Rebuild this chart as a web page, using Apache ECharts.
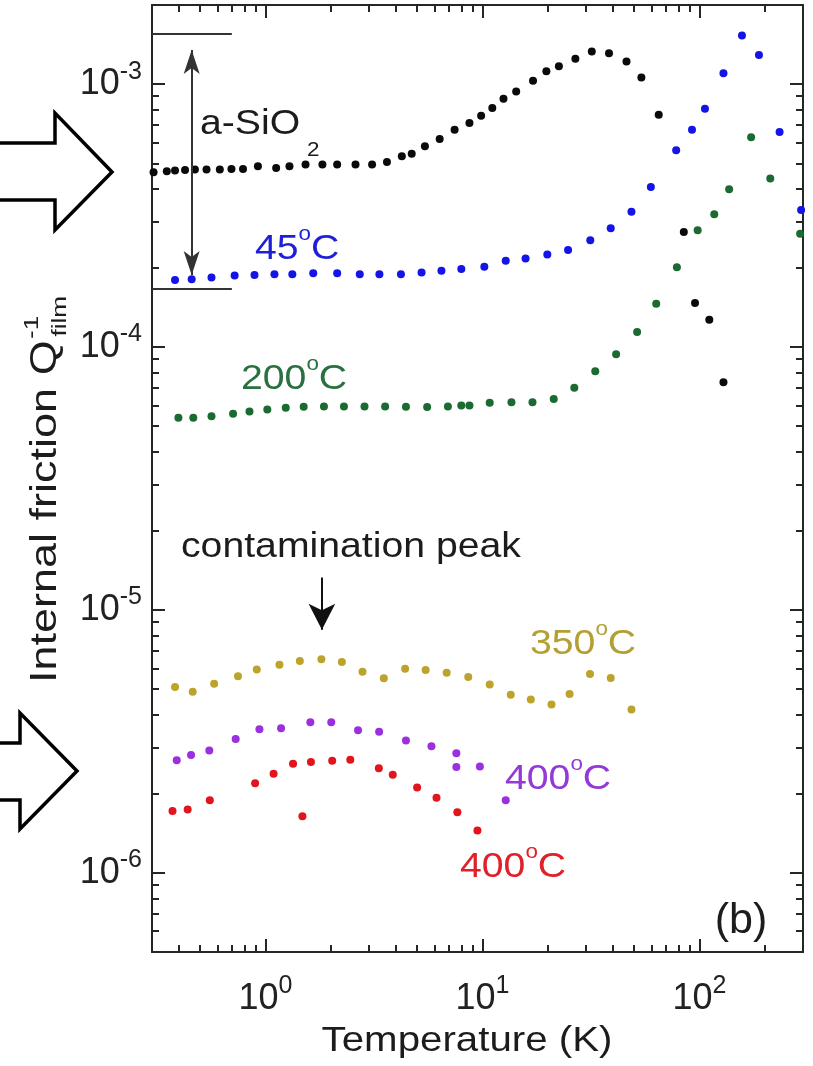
<!DOCTYPE html>
<html>
<head>
<meta charset="utf-8">
<script src="https://cdn.jsdelivr.net/npm/echarts@6/dist/echarts.min.js"></script>
<style>
  html, body { margin: 0; padding: 0; background: #fff; }
  #chart { width: 813px; height: 1066px; }
</style>
</head>
<body>
<div id="chart"></div>
<script>
// internal friction of the films, temperature in K, Q^-1
const sio2T = [0.305, 0.351, 0.383, 0.426, 0.473, 0.535, 0.616, 0.697, 0.788, 0.923, 1.12, 1.29, 1.53, 1.83, 2.14, 2.60, 3.10, 3.63, 4.25, 4.72, 5.43, 6.35, 7.44, 8.71, 9.86, 11.1, 12.5, 14.3, 17.1, 19.7, 22.5, 26.8, 31.9, 38.3, 46.1, 54.0, 64.9, 84.7, 95.4, 111, 129]
const sio2Q = [4.62e-4, 4.66e-4, 4.69e-4, 4.71e-4, 4.73e-4, 4.73e-4, 4.73e-4, 4.76e-4, 4.76e-4, 4.87e-4, 4.80e-4, 4.87e-4, 4.95e-4, 4.95e-4, 4.95e-4, 4.95e-4, 4.95e-4, 5.06e-4, 5.32e-4, 5.44e-4, 5.80e-4, 6.19e-4, 6.71e-4, 7.12e-4, 7.59e-4, 8.11e-4, 8.80e-4, 9.38e-4, 1.03e-3, 1.12e-3, 1.17e-3, 1.25e-3, 1.33e-3, 1.31e-3, 1.22e-3, 1.06e-3, 7.65e-4, 2.74e-4, 1.47e-4, 1.27e-4, 7.35e-5]

const c45T = [0.383, 0.457, 0.564, 0.721, 0.890, 1.10, 1.33, 1.66, 2.14, 2.72, 3.35, 4.21, 5.24, 6.47, 7.99, 10.2, 12.8, 15.8, 19.9, 24.8, 31.4, 39.0, 48.6, 59.7, 78.1, 92.4, 106, 129, 157, 188, 234, 294]
const c45Q = [1.80e-4, 1.81e-4, 1.84e-4, 1.87e-4, 1.88e-4, 1.89e-4, 1.89e-4, 1.91e-4, 1.91e-4, 1.89e-4, 1.89e-4, 1.89e-4, 1.92e-4, 1.95e-4, 1.98e-4, 2.02e-4, 2.13e-4, 2.17e-4, 2.25e-4, 2.34e-4, 2.55e-4, 2.83e-4, 3.27e-4, 4.06e-4, 5.60e-4, 6.71e-4, 8.06e-4, 1.10e-3, 1.53e-3, 1.29e-3, 6.58e-4, 3.32e-4]

const c200T = [0.397, 0.465, 0.564, 0.709, 0.844, 1.02, 1.24, 1.50, 1.86, 2.30, 2.86, 3.56, 4.44, 5.56, 6.93, 7.99, 8.71, 10.8, 13.6, 17.0, 21.3, 26.5, 33.1, 41.3, 51.6, 63.2, 78.7, 98.1, 117, 137, 173, 212, 291]
const c200Q = [5.38e-5, 5.38e-5, 5.46e-5, 5.58e-5, 5.69e-5, 5.79e-5, 5.87e-5, 5.93e-5, 5.94e-5, 5.94e-5, 5.94e-5, 5.94e-5, 5.93e-5, 5.91e-5, 5.94e-5, 5.99e-5, 5.99e-5, 6.14e-5, 6.17e-5, 6.17e-5, 6.35e-5, 7.00e-5, 8.09e-5, 9.39e-5, 1.14e-4, 1.46e-4, 2.01e-4, 2.78e-4, 3.20e-4, 3.98e-4, 6.28e-4, 4.38e-4, 2.70e-4]

const c350T = [0.383, 0.462, 0.580, 0.747, 0.912, 1.16, 1.44, 1.81, 2.25, 2.80, 3.51, 4.40, 5.47, 6.84, 8.60, 10.8, 13.5, 16.7, 20.8, 25.2, 31.3, 39.0, 48.6]
const c350Q = [5.09e-6, 4.88e-6, 5.24e-6, 5.59e-6, 5.93e-6, 6.19e-6, 6.39e-6, 6.49e-6, 6.34e-6, 5.82e-6, 5.50e-6, 5.98e-6, 5.91e-6, 5.77e-6, 5.56e-6, 5.20e-6, 4.76e-6, 4.56e-6, 4.37e-6, 4.79e-6, 5.71e-6, 5.51e-6, 4.18e-6]

const c400aT = [0.390, 0.454, 0.551, 0.729, 0.938, 1.18, 1.61, 2.01, 2.67, 3.34, 4.44, 5.82, 7.58, 7.58, 9.73, 12.8]
const c400aQ = [2.68e-6, 2.81e-6, 2.92e-6, 3.23e-6, 3.52e-6, 3.55e-6, 3.74e-6, 3.74e-6, 3.49e-6, 3.44e-6, 3.19e-6, 3.03e-6, 2.85e-6, 2.53e-6, 2.54e-6, 1.89e-6]

const c400bT = [0.373, 0.438, 0.554, 0.896, 1.09, 1.34, 1.48, 1.62, 2.03, 2.46, 3.33, 3.86, 5.00, 6.14, 7.66, 9.48]
const c400bQ = [1.72e-6, 1.74e-6, 1.89e-6, 2.19e-6, 2.38e-6, 2.60e-6, 1.64e-6, 2.64e-6, 2.67e-6, 2.69e-6, 2.50e-6, 2.36e-6, 2.11e-6, 1.93e-6, 1.70e-6, 1.45e-6]

// axis ranges and ticks
const xRange = [0.3, 300]
const yRange = [5e-7, 2e-3]
const xMajor = [1, 10, 100]
const xMinor = [0.4, 0.5, 0.6, 0.7, 0.8, 0.9, 2, 3, 4, 5, 6, 7, 8, 9, 20, 30, 40, 50, 60, 70, 80, 90, 200]
const yMajor = [1e-6, 1e-5, 1e-4, 1e-3]
const yMinor = [6e-7, 7e-7, 8e-7, 9e-7, 2e-6, 3e-6, 4e-6, 5e-6, 6e-6, 7e-6, 8e-6, 9e-6, 2e-5, 3e-5, 4e-5, 5e-5, 6e-5, 7e-5, 8e-5, 9e-5, 2e-4, 3e-4, 4e-4, 5e-4, 6e-4, 7e-4, 8e-4, 9e-4]

const FONT = '"Liberation Sans", Arial, Helvetica, sans-serif'
const AX = '#262626'
const SX = 1.12

const lg = v => Math.log10(v)
const pairs = (xs, ys) => xs.map((x, i) => [x, ys[i]])

const labelRich = {
  m: {fontSize: 36, lineHeight: 50, color: '#222', fontFamily: FONT},
  s: {fontSize: 25, lineHeight: 22, verticalAlign: 'top', color: '#222', fontFamily: FONT}
}
const powLabel = v => '{m|10}{s|' + Math.round(v) + '}'

// tick axes live in log10 space so the ticks can be placed freely
const tickAxis = (pos, range, ticks, len, line, label) => ({
  type: 'value',
  position: pos,
  min: lg(range[0]),
  max: lg(range[1]),
  splitLine: {show: false},
  axisLine: {show: line, onZero: false, lineStyle: {color: AX, width: 2}},
  axisTick: {show: true, inside: true, length: len, customValues: ticks.map(lg), lineStyle: {color: AX, width: 2}},
  axisLabel: label ? {
    show: true, customValues: ticks.map(lg), formatter: powLabel, rich: labelRich,
    margin: pos === 'bottom' ? 22 : 10
  } : {show: false}
})

const dots = (name, xs, ys, color) => ({
  name: name,
  type: 'scatter',
  symbol: 'circle',
  symbolSize: 8,
  itemStyle: {color: color, opacity: 1},
  data: pairs(xs, ys)
})

const chart = echarts.init(document.getElementById('chart'))

const sio2 = dots('a-SiO2', sio2T, sio2Q, '#0a0a0a')
sio2.markLine = {
  silent: true,
  animation: false,
  label: {show: false},
  lineStyle: {color: '#333', width: 2, type: 'solid'},
  symbol: ['none', 'none'],
  data: [
    [{coord: [0.3, 1.56e-3]}, {coord: [0.70, 1.56e-3]}],
    [{coord: [0.3, 1.67e-4]}, {coord: [0.70, 1.67e-4]}],
    [{coord: [0.457, 1.35e-3], symbol: 'arrow', symbolSize: [12, 24]},
     {coord: [0.457, 1.88e-4], symbol: 'arrow', symbolSize: [12, 24]}]
  ]
}

const c350 = dots('350C', c350T, c350Q, '#bca42c')
c350.markLine = {
  silent: true,
  animation: false,
  label: {show: false},
  lineStyle: {color: '#111', width: 2, type: 'solid'},
  symbol: ['none', 'arrow'],
  symbolSize: [20, 26],
  data: [
    [{coord: [1.82, 1.33e-5]}, {coord: [1.82, 8.4e-6]}]
  ]
}

const xAxes = [
  {type: 'log', min: xRange[0], max: xRange[1], show: false, position: 'bottom'},
  tickAxis('bottom', xRange, xMajor, 13, true, true),
  tickAxis('bottom', xRange, xMinor, 7, false, false),
  tickAxis('top', xRange, xMajor, 13, true, false),
  tickAxis('top', xRange, xMinor, 7, false, false)
]
const yAxes = [
  {type: 'log', min: yRange[0], max: yRange[1], show: false, position: 'left'},
  tickAxis('left', yRange, yMajor, 13, true, true),
  tickAxis('left', yRange, yMinor, 7, false, false),
  tickAxis('right', yRange, yMajor, 13, true, false),
  tickAxis('right', yRange, yMinor, 7, false, false)
]

// text label with optional rich superscripts, positioned by left edge and baseline
const label = (x, base, text, color, size) => {
  size = size || 35
  return {
    type: 'text', x: x, y: base - 0.31 * size, scaleX: SX, silent: true,
    style: {
      text: text, fill: color, align: 'left', verticalAlign: 'middle',
      fontFamily: FONT, fontSize: size,
      rich: {
        m: {fontSize: size, lineHeight: 50, fill: color, fontFamily: FONT},
        o: {fontSize: 20, lineHeight: 19, verticalAlign: 'top', fill: color, fontFamily: FONT}
      }
    }
  }
}

const measure = (txt, size) => {
  const ctx = document.createElement('canvas').getContext('2d')
  ctx.font = size + 'px ' + FONT
  return ctx.measureText(txt).width
}
const yTitle = 'Internal friction Q'
const yTitleW = measure(yTitle, 36)

const graphics = [
  // hollow block arrows pointing at the curves
  {type: 'polyline', silent: true, shape: {points: [[0, 143], [55, 143], [55, 113], [112, 172], [55, 230], [55, 200], [0, 200]]},
   style: {stroke: '#000', lineWidth: 3.5, fill: null, lineJoin: 'miter'}},
  {type: 'polyline', silent: true, shape: {points: [[0, 743], [20, 743], [20, 713], [77, 771], [20, 829], [20, 800], [0, 800]]},
   style: {stroke: '#000', lineWidth: 3.5, fill: null, lineJoin: 'miter'}},

  label(200, 135, '{m|a-SiO}', '#1c1c1c'),
  label(307, 157, '2', '#1c1c1c', 20),
  label(255, 260, '{m|45}{o|o}{m|C}', '#1f1fd6'),
  label(241, 390, '{m|200}{o|o}{m|C}', '#2a7040'),
  label(181, 558, '{m|contamination peak}', '#1c1c1c'),
  label(530, 655, '{m|350}{o|o}{m|C}', '#b3a032'),
  label(505, 790, '{m|400}{o|o}{m|C}', '#9438d6'),
  label(460, 878, '{m|400}{o|o}{m|C}', '#e0202a'),
  {type: 'text', x: 741, y: 921, silent: true,
   style: {text: '(b)', fill: '#1c1c1c', align: 'center', verticalAlign: 'middle', fontFamily: FONT, fontSize: 43}},

  {type: 'text', x: 467, y: 1041, scaleX: 1.15, silent: true,
   style: {text: 'Temperature (K)', fill: '#1c1c1c', align: 'center', verticalAlign: 'middle', fontFamily: FONT, fontSize: 35}},

  // rotated y title, drawn between the two block arrows
  {type: 'group', x: 46, y: 683, rotation: Math.PI / 2, scaleX: 1.25, silent: true,
   children: [
     {type: 'text', x: 0, y: 0, style: {text: yTitle, fill: '#1c1c1c', align: 'left', verticalAlign: 'middle', fontFamily: FONT, fontSize: 36}},
     {type: 'text', x: yTitleW + 1, y: -14, style: {text: '-1', fill: '#1c1c1c', align: 'left', verticalAlign: 'middle', fontFamily: FONT, fontSize: 21}},
     {type: 'text', x: yTitleW + 3, y: 14, style: {text: 'film', fill: '#1c1c1c', align: 'left', verticalAlign: 'middle', fontFamily: FONT, fontSize: 21}}
   ]}
]

chart.setOption({
  animation: false,
  backgroundColor: '#fff',
  textStyle: {fontFamily: FONT},
  grid: {left: 152, right: 10, top: 5, bottom: 114, containLabel: false, outerBoundsMode: 'none'},
  xAxis: xAxes,
  yAxis: yAxes,
  series: [
    sio2,
    dots('45C', c45T, c45Q, '#1414e6'),
    dots('200C', c200T, c200Q, '#1b6a32'),
    c350,
    dots('400C a', c400aT, c400aQ, '#9a30e0'),
    dots('400C b', c400bT, c400bQ, '#e2141c')
  ],
  graphic: graphics
})
</script>
</body>
</html>
